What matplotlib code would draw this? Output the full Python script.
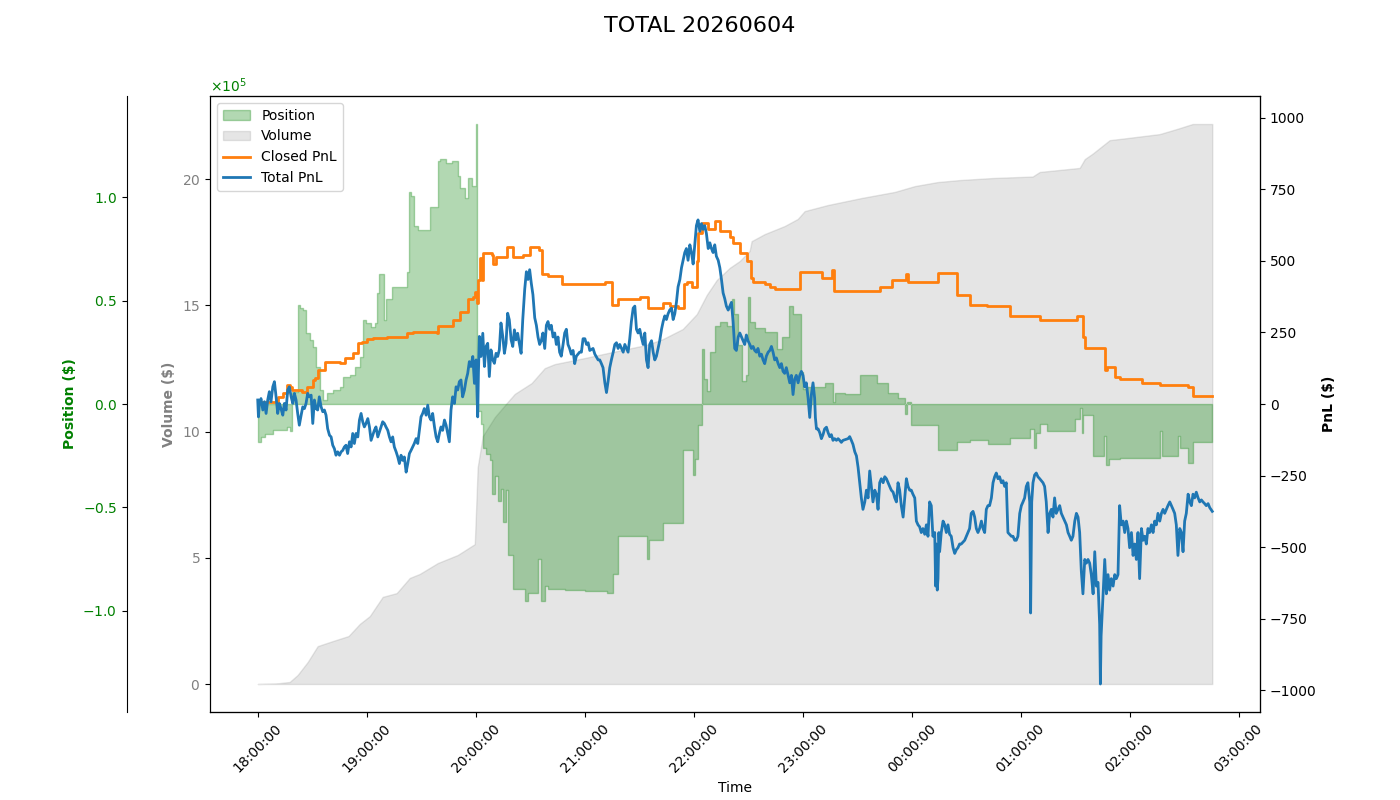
import numpy as np
import pandas as pd
import matplotlib
matplotlib.use("Agg")
import matplotlib.pyplot as plt
import matplotlib.dates as mdates
from matplotlib.ticker import ScalarFormatter

TITLE = "TOTAL 20260604"
START = "2026-06-04 18:00:00"

# ---- Volume (cumulative, $) : minutes after 18:00 ----
vol_min = [0, 10.0, 17.6, 22.0, 27.5, 33.0, 41.3, 50.0, 56.2, 61.7, 68.8, 76.5,
           83.7, 89.2, 99.1, 110.1, 119.5, 121.1, 123.9, 130.5, 137.6, 141.5,
           150.8, 158.0, 163.5, 180.0, 195.4, 214.1, 223.0, 234.0, 241.7, 247.2,
           252.7, 259.8, 265.3, 270.8, 271.9, 279.1, 290.1, 297.3, 301.1, 313.8,
           332.5, 350.7, 361.7, 374.3, 386.5, 404.6, 426.6, 430.5, 452.5, 455.3,
           459.7, 469.0, 478.4, 496.5, 505.9, 514.7, 525.5]
vol_usd = [0, 2000, 8000, 36000, 87000, 150000, 170000, 190000, 238000, 269000, 345000, 360000,
           420000, 436000, 479000, 511000, 554000, 859000, 982000, 1057000, 1117000, 1149000,
           1192000, 1251000, 1267000, 1291000, 1315000, 1343000, 1366000, 1406000, 1465000, 1541000,
           1600000, 1648000, 1675000, 1715000, 1754000, 1782000, 1814000, 1842000, 1873000, 1897000,
           1925000, 1949000, 1972000, 1988000, 1996000, 2004000, 2010000, 2028000, 2044000, 2079000,
           2101000, 2154000, 2162000, 2178000, 2198000, 2218000, 2218000]

# ---- Position ($) ----
pos_min = [0, 1.7, 3.9, 8.3, 16.0, 17.6, 18.7, 22.0, 23.1, 24.9,
           26.8, 28.6, 30.4, 32.3, 34.1, 35.9, 38.1, 41.5, 45.1, 47.0,
           50.6, 53.4, 56.2, 58.0, 59.8, 62.6, 64.4, 65.5, 66.6, 69.4,
           70.5, 73.8, 82.0, 83.1, 84.2, 85.9, 88.1, 94.7, 99.1, 100.2,
           103.5, 106.8, 110.1, 111.2, 114.0, 115.6, 117.8, 120.0, 120.6, 122.8,
           123.9, 125.5, 127.7, 128.8, 130.5, 132.1, 133.8, 134.9, 136.5, 137.6,
           140.4, 147.0, 148.6, 154.1, 155.8, 158.0, 159.6, 169.0, 180.0, 192.1,
           195.4, 198.2, 214.1, 215.2, 223.0, 234.0, 239.5, 240.6, 242.2, 244.4,
           245.5, 247.2, 248.8, 251.6, 254.3, 258.2, 260.9, 262.0, 264.2, 266.4,
           268.6, 269.7, 270.8, 273.6, 279.1, 285.7, 288.5, 292.3, 294.5, 298.9,
           300.0, 302.2, 312.1, 316.5, 317.6, 323.1, 331.4, 340.8, 346.8, 352.3,
           356.2, 357.3, 359.5, 374.3, 384.8, 392.0, 401.9, 414.0, 425.0, 427.2,
           428.3, 430.5, 434.3, 449.8, 452.5, 453.6, 454.2, 459.7, 465.7, 466.8,
           468.5, 474.5, 496.5, 497.7, 506.5, 507.6, 512.0, 514.7, 525.5]
pos_usd = [-18400, -16000, -14300, -12600, -11300, -12900, 5800, 47800, 46400, 45400,
           34300, 30900, 27500, 17900, 6800, 1900, 5300, 6800, 8200, 13000,
           14000, 17900, 22700, 40600, 39100, 37200, 39100, 53600, 62800, 40600,
           50700, 56500, 63800, 102400, 100500, 86000, 84100, 95200, 117300, 118400,
           116400, 117400, 110100, 104300, 99500, 109200, 105300, 135300, -3400, -9700,
           -21300, -24200, -27100, -43500, -34800, -46900, -41100, -57000, -41500, -72900,
           -89400, -95100, -91300, -74900, -95100, -87900, -89400, -89900, -90300, -91300,
           -82100, -63800, -74900, -65700, -57500, -22200, -34300, -26600, -10100, 26600,
           12100, 6300, 25100, 37700, 39600, 37700, 50700, 43500, 28500, 11100,
           14000, 51700, 39600, 36700, 34800, 26600, 32300, 47300, 43500, 15500,
           7200, 8200, 10100, 1000, 5300, 4800, 14000, 10100, 5300, 2900,
           -4800, 1000, -10100, -22200, -18400, -17400, -19300, -16400, -12100, -21300,
           -14000, -9700, -13000, -7200, -1900, -14000, -5300, -25100, -15500, -29500,
           -26600, -26100, -13000, -25100, -15500, -21300, -28500, -18400, -18400]

# ---- Closed PnL ($) ----
closed_min = [0, 10.5, 11.0, 13.8, 16.0, 17.6, 18.7, 24.2, 27.0, 30.3,
              31.4, 33.0, 36.9, 45.1, 47.9, 52.3, 55.1, 57.3, 60.0, 63.3,
              71.0, 82.0, 85.3, 98.5, 99.1, 107.3, 111.2, 115.6, 118.4, 119.5,
              120.6, 121.1, 122.2, 123.3, 123.9, 128.8, 129.4, 131.0, 137.1, 140.4,
              145.9, 149.7, 154.7, 156.3, 159.6, 167.4, 191.0, 194.9, 198.2, 210.3,
              214.7, 223.0, 226.8, 231.2, 234.5, 236.2, 238.9, 241.7, 242.2, 244.4,
              247.7, 251.6, 254.3, 259.8, 261.4, 265.3, 269.2, 271.4, 272.5, 279.1,
              281.9, 284.6, 298.4, 310.5, 316.0, 317.1, 342.4, 349.0, 356.7, 357.8,
              374.3, 384.8, 392.0, 401.3, 414.0, 430.5, 450.9, 454.2, 455.3, 466.3,
              467.4, 471.8, 474.5, 486.6, 496.5, 512.0, 514.7, 525.5]
closed_pnl = [7, 11, 25, 39, 67, 60, 49, 42, 60, 84,
              91, 119, 147, 144, 161, 179, 214, 217, 228, 231,
              235, 249, 252, 249, 273, 294, 322, 368, 375, 392,
              354, 434, 511, 434, 529, 522, 490, 515, 550, 515,
              522, 550, 539, 455, 448, 420, 427, 347, 368, 375,
              336, 354, 343, 336, 420, 427, 410, 501, 596, 631,
              610, 638, 603, 582, 564, 529, 501, 441, 427, 420,
              410, 403, 462, 441, 469, 396, 410, 434, 455, 427,
              459, 382, 347, 342, 308, 294, 308, 235, 196, 119,
              130, 95, 88, 74, 67, 60, 28, 28]

# ---- Total PnL ($) ----
total_min = [
    0.0, 0.4, 0.9, 1.8, 2.8, 3.7, 4.6, 5.5, 6.4, 7.3,
    8.3, 9.2, 10.1, 11.0, 11.9, 12.8, 13.8, 14.7, 15.6, 16.5,
    17.4, 18.4, 19.3, 20.2, 21.1, 22.0, 22.9, 23.9, 24.8, 25.7,
    26.6, 27.5, 28.4, 29.4, 30.3, 31.2, 32.1, 33.0, 33.9, 34.9,
    35.8, 36.7, 37.6, 38.5, 39.5, 40.4, 41.3, 42.2, 43.1, 44.0,
    45.0, 45.9, 46.8, 47.7, 48.6, 49.5, 50.5, 51.4, 52.3, 53.2,
    54.1, 55.1, 56.0, 56.9, 57.8, 58.7, 59.6, 60.6, 61.5, 62.4,
    63.3, 64.2, 65.1, 66.1, 67.0, 67.9, 68.8, 69.7, 70.6, 71.6,
    72.5, 73.4, 74.3, 75.2, 76.2, 77.1, 78.0, 78.9, 79.8, 80.7,
    81.7, 82.6, 83.5, 84.4, 85.3, 86.2, 87.2, 88.1, 89.0, 89.9,
    90.8, 91.7, 92.7, 93.6, 94.5, 95.4, 96.3, 97.3, 98.2, 99.1,
    100.0, 100.9, 101.8, 102.8, 103.7, 104.6, 105.5, 106.4, 107.3, 108.3,
    109.2, 110.1, 111.0, 111.9, 112.8, 113.8, 114.7, 115.6, 116.5, 117.4,
    118.4, 119.3, 120.2, 121.1, 121.5, 122.0, 122.9, 123.9, 124.8, 125.7,
    126.6, 127.5, 128.4, 129.4, 130.3, 131.2, 132.1, 133.0, 133.9, 134.9,
    135.8, 136.7, 137.6, 138.5, 139.5, 140.4, 141.3, 142.2, 143.1, 144.0,
    145.0, 145.9,
    147.0, 147.9, 148.8, 149.7, 150.6, 151.5, 152.5, 153.4, 154.3, 155.2,
    156.1, 157.0, 158.0, 158.9, 159.8, 160.7, 161.6, 162.6, 163.5, 164.4,
    165.3, 166.2, 167.1, 168.1, 169.0, 169.9, 170.8, 171.7, 172.6, 173.6,
    174.5, 175.4, 176.3, 177.2, 178.2, 179.1,
    180.1, 181.0, 181.9, 182.8, 184.6, 185.6, 187.4, 188.3, 189.2, 190.1,
    191.1, 192.0, 192.9, 193.8, 194.7, 195.7, 196.6, 197.5, 198.4, 199.3,
    201.2, 202.1, 203.0, 203.9, 204.8, 205.7, 206.7, 207.6, 208.5, 209.4,
    210.3, 211.2, 212.2, 213.1, 214.0, 214.9, 215.8, 216.8, 217.7, 218.6,
    219.5, 220.4, 221.3, 222.3, 223.2, 224.1, 225.0, 225.9, 226.8, 227.8,
    228.7, 229.6, 230.5, 231.4, 232.4, 233.3, 234.2, 235.1, 236.0, 236.9,
    237.9, 238.8, 239.7, 240.6, 241.5, 242.4, 243.4, 244.3, 245.2, 246.1,
    247.0, 248.0, 248.9, 249.8, 250.7, 251.6, 252.5, 253.5, 254.4, 255.3,
    256.2, 257.1, 258.0, 259.0, 259.9, 260.8, 261.7, 262.6, 263.5, 264.5,
    265.4, 266.3, 267.2, 268.1,
    269.0, 269.9, 270.9, 271.8, 272.7, 273.6, 274.5, 275.4, 276.4, 277.3,
    278.2, 279.1, 280.0, 281.0, 281.9, 282.8, 283.7, 284.6, 285.5, 286.5,
    287.4, 288.3, 289.2, 290.1, 291.0, 292.0, 292.9, 293.8, 294.7, 295.6,
    296.5, 297.5, 298.4, 299.3, 300.2, 301.1, 302.0, 303.0, 303.9, 304.8,
    305.7, 306.6, 307.0, 307.6, 308.5, 309.4, 310.3, 311.2, 312.1, 313.1,
    314.0, 314.9, 315.8, 316.7, 317.6, 318.6, 319.5, 320.4, 321.3, 322.2,
    323.2, 325.0, 325.9, 326.8, 327.7, 328.7, 329.6, 330.5, 331.4, 332.3,
    333.2, 334.2, 335.1, 336.0, 336.9, 337.8, 338.7, 339.7, 340.6, 341.5,
    342.4, 343.3, 344.3, 345.2, 346.1, 347.0, 347.9, 348.8, 349.8, 350.7,
    351.6, 352.5, 353.4, 354.3, 355.3, 356.2, 357.1, 358.0, 358.9,
    359.8, 360.7, 361.7, 362.6, 363.5, 364.4, 365.3, 366.2, 367.2, 368.1,
    369.0, 369.9, 370.8, 371.7, 372.7, 373.2, 373.6, 374.1, 374.5, 375.0,
    375.4, 376.3, 377.3, 378.2, 379.1, 380.0, 380.9, 381.8, 382.8, 383.7,
    384.6, 385.5, 386.4, 387.3, 388.3, 389.2, 390.1, 391.0, 391.9, 392.8,
    393.8, 394.7, 395.6, 396.5, 397.4, 398.4, 399.3, 400.2, 401.1, 402.0,
    402.9, 403.9, 404.8, 405.7, 406.6, 407.5, 408.4, 409.4, 410.3, 411.2,
    412.1, 413.0, 413.9, 414.9, 415.8, 416.7, 417.6, 418.5, 419.5, 420.4,
    421.3, 422.2, 423.1, 424.0, 425.0, 425.5, 426.1, 426.8, 427.7, 428.6,
    429.5, 430.5, 431.4, 432.3, 433.2, 434.1, 435.1, 436.0, 436.9, 437.8,
    438.7, 439.6, 440.6,
    441.5, 442.4, 443.3, 444.3, 445.2, 446.1, 447.0, 447.9, 448.8, 449.8,
    450.7, 451.6, 452.5, 453.4, 454.3, 455.3, 456.2, 457.1, 458.0, 458.9,
    459.9, 460.8, 461.7, 462.6, 463.5, 463.9, 464.3, 464.8, 465.4, 466.3,
    467.2, 468.1, 469.0, 469.9, 470.9, 471.8, 472.7, 473.6, 474.5, 475.4,
    476.4, 477.3, 478.2, 479.1, 480.0, 481.0, 481.9, 482.8, 483.7, 484.6,
    485.5, 486.5, 487.4, 488.3, 489.2, 490.1, 491.0, 492.0, 492.9, 493.8,
    494.7, 495.6, 496.6, 497.5, 498.4, 499.3, 500.2, 501.1, 502.1, 503.0,
    503.9, 504.8, 505.7, 506.6, 507.6, 508.5, 509.4, 510.3, 511.2, 512.2,
    513.1, 514.0, 514.9, 515.8, 516.7, 517.7, 518.6, 519.5, 520.4, 521.3,
    522.2, 523.2, 524.1, 525.5]
total_pnl = [
    14, -45, 2, 19, -21, 8, -33, 14, 43, 8,
    60, 78, 25, -33, 2, -16, -39, 2, -21, 49,
    60, 25, 2, 37, 14, -33, -74, -39, -10, -16,
    2, 37, 25, 31, -68, 14, -16, -21, 25, -10,
    -27, -21, -39, -86, -109, -115, -144, -156, -179, -167,
    -179, -167, -162, -150, -144, -173, -132, -150, -103, -138,
    -103, -115, -56, -33, -62, -80, -68, -51, -80, -127,
    -109, -92, -80, -115, -97, -80, -62, -68, -80, -92,
    -115, -132, -115, -150, -167, -185, -208, -179, -197, -185,
    -238, -208, -173, -162, -150, -138, -121, -138, -92, -45,
    -33, -16, -39, -4, -45, -56, -33, -80, -115, -132,
    -103, -80, -92, -56, -74, -103, -132, -21, 25, 2,
    60, 49, 78, 84, 25, 49, 84, 107, 148, 131,
    166, 72, 154, -45, 107, 236, 166, 247, 131, 201,
    212, 96, 189, 154, 142, 177, 166, 189, 283, 236,
    177, 212, 317, 294, 224, 201, 259, 224, 247, 212,
    177, 294,
    402, 462, 435, 469, 422, 382, 301, 275, 234, 208,
    221, 248, 194, 275, 288, 261, 275, 234, 248, 208,
    234, 181, 167, 208, 248, 261, 208, 194, 174, 187,
    141, 167, 174, 181, 181, 228,
    228, 208, 214, 187, 194, 174, 154, 154, 141, 127,
    74, 40, 80, 127, 154, 181, 208, 214, 194, 208,
    181, 208, 194, 181, 228, 288, 335, 342, 261, 248,
    261, 234, 208, 248, 154, 127, 208, 221, 181, 154,
    167, 194, 221, 261, 288, 308, 295, 315, 328, 335,
    295, 315, 355, 409, 435, 476, 502, 529, 543, 502,
    556, 529, 489, 556, 623, 643, 603, 630, 610, 623,
    596, 543, 563, 543, 529, 556, 516, 502, 476, 435,
    388, 368, 342, 328, 342, 355, 288, 194, 187, 234,
    248, 234, 221, 208,
    241, 221, 208, 194, 201, 187, 181, 194, 167, 174,
    154, 141, 167, 181, 187, 201, 181, 154, 161, 141,
    127, 141, 114, 107, 127, 100, 74, 100, 33, 87,
    100, 74, 100, 114, 100, 60, 74, 20, -47, 33,
    74, 20, -47, -87, -87, -100, -121, -107, -87, -81,
    -100, -114, -107, -127, -121, -127, -121, -127, -134, -127,
    -125, -121, -114, -127, -141, -167, -181, -221, -275, -328,
    -368, -342, -301, -328, -234, -288, -342, -301, -315, -368,
    -275, -261, -275, -254, -261, -275, -288, -301, -308, -328,
    -342, -275, -301, -355, -395, -328, -261, -288, -301,
    -301, -315, -328, -409, -422, -429, -449, -435, -455, -422,
    -462, -342, -355, -462, -449, -636, -489, -650, -610, -449,
    -516, -449, -409, -422, -449, -422, -455, -462, -502, -522,
    -509, -502, -489, -489, -482, -476, -462, -449, -435, -382,
    -375, -395, -435, -449, -435, -409, -435, -449, -368, -355,
    -355, -328, -275, -254, -241, -261, -254, -275, -268, -288,
    -275, -449, -455, -462, -462, -476, -476, -462, -382, -355,
    -342, -328, -288, -275, -342, -730, -342, -275, -248, -241,
    -254, -261, -268, -275, -288, -342, -449, -382, -368, -395,
    -328, -382, -368,
    -355, -382, -395, -409, -422, -449, -462, -476, -462, -409,
    -382, -395, -449, -583, -663, -543, -556, -543, -556, -596,
    -663, -516, -636, -623, -770, -978, -810, -743, -663, -543,
    -663, -596, -650, -610, -636, -596, -610, -596, -355, -422,
    -409, -449, -409, -435, -502, -449, -529, -489, -543, -449,
    -610, -435, -476, -462, -489, -435, -449, -422, -449, -409,
    -422, -382, -409, -382, -368, -382, -368, -355, -342, -355,
    -368, -382, -422, -529, -435, -449, -516, -409, -382, -315,
    -342, -355, -315, -328, -308, -328, -342, -335, -342, -348,
    -355, -348, -362, -375]


def to_time(minutes):
    return (pd.Timestamp(START) + pd.to_timedelta(np.asarray(minutes, float), unit="min")).to_numpy()


fig, ax = plt.subplots(figsize=(14, 8), dpi=100)
fig.subplots_adjust(left=0.15, right=0.9, top=0.88, bottom=0.11)
ax_pos = ax.twinx()
ax_pnl = ax.twinx()

# Volume (left axis)
ax.fill_between(to_time(vol_min), vol_usd, color="gray", alpha=0.2, label="Volume")
ax.set_ylabel("Volume ($)", color="gray", fontweight="bold")
ax.tick_params(axis="y", labelcolor="gray")
vfmt = ScalarFormatter(useMathText=True)
vfmt.set_powerlimits((5, 5))
ax.yaxis.set_major_formatter(vfmt)
ax.yaxis.get_offset_text().set_visible(False)

# Position (offset left axis)
ax_pos.fill_between(to_time(pos_min), pos_usd, 0, step="post", color="green",
                    alpha=0.3, label="Position")
ax_pos.spines["left"].set_position(("outward", 60))
ax_pos.spines["left"].set_visible(True)
ax_pos.yaxis.set_ticks_position("left")
ax_pos.yaxis.set_label_position("left")
ax_pos.yaxis.set_offset_position("left")
pfmt = ScalarFormatter(useMathText=True)
pfmt.set_powerlimits((0, 0))
ax_pos.yaxis.set_major_formatter(pfmt)
ax_pos.tick_params(axis="y", labelcolor="green")
ax_pos.yaxis.get_offset_text().set_color("green")
ax_pos.set_ylabel("Position ($)", color="green", fontweight="bold")
pmax = 1.1 * np.max(np.abs(pos_usd))
ax_pos.set_ylim(-pmax, pmax)

# PnL (right axis)
ax_pnl.plot(to_time(closed_min), closed_pnl, color="tab:orange", lw=2,
            drawstyle="steps-post", label="Closed PnL")
ax_pnl.plot(to_time(total_min), total_pnl, color="tab:blue", lw=2, label="Total PnL")
ax_pnl.set_ylabel("PnL ($)", fontweight="bold")
lim = 1.1 * max(np.max(np.abs(total_pnl)), np.max(np.abs(closed_pnl)))
ax_pnl.set_ylim(-lim, lim)

# X axis
ax.xaxis.set_major_locator(mdates.HourLocator())
ax.xaxis.set_major_formatter(mdates.DateFormatter("%H:%M:%S"))
ax.tick_params(axis="x", labelrotation=45)
ax.set_xlabel("Time")

# Legend
handles, labels = [], []
for a in (ax_pos, ax, ax_pnl):
    h, l = a.get_legend_handles_labels()
    handles += h
    labels += l
ax_pnl.legend(handles, labels, loc="upper left")

fig.suptitle(TITLE, fontsize=16)
fig.savefig("out.png", dpi=100)
